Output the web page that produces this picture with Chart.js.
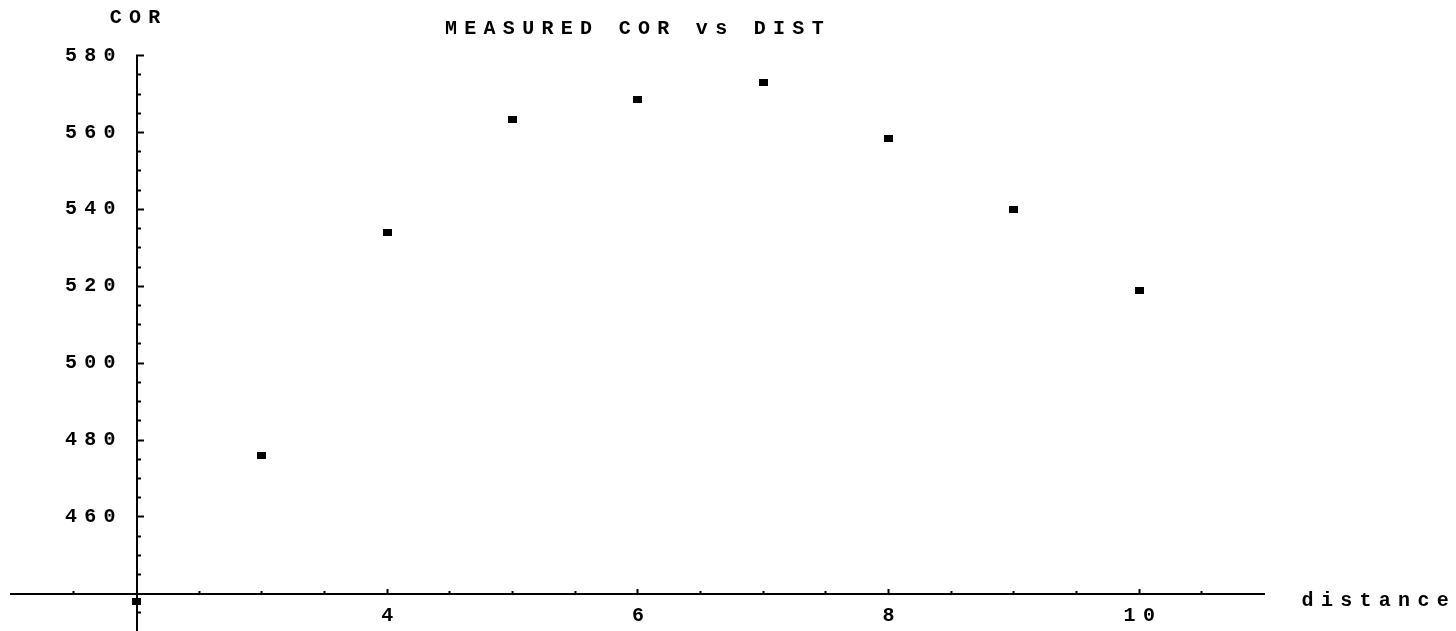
<!DOCTYPE html>
<html>
<head>
<meta charset="utf-8">
<title>Measured COR vs DIST</title>
<script src="https://cdn.jsdelivr.net/npm/chart.js@4/dist/chart.umd.min.js"></script>
<style>
  html, body { margin: 0; padding: 0; background: #fff; overflow: hidden; }
  canvas { display: block; }
</style>
</head>
<body>
<canvas id="chart" width="1456" height="631"></canvas>
<script>
// Data
const distance = [2, 3, 4, 5, 6, 7, 8, 9, 10];
const cor = [438, 476, 534, 563.5, 568.5, 573, 558.5, 540, 519];

// Axis ticks
const xMajorTicks = [4, 6, 8, 10];
const xMinorTicks = [1.5, 2.5, 3, 3.5, 4.5, 5, 5.5, 6.5, 7, 7.5, 8.5, 9, 9.5, 10.5];
const yMajorTicks = [460, 480, 500, 520, 540, 560, 580];
const yMinorTicks = [435, 445, 450, 455, 465, 470, 475, 485, 490, 495, 505, 510, 515,
  525, 530, 535, 545, 550, 555, 565, 570, 575];

const chartTitle = 'MEASURED COR vs DIST';
const xName = 'distance';
const yName = 'COR';

const FONT = { family: '"Liberation Mono", "DejaVu Sans Mono", monospace', size: 20, weight: 'bold' };
const SPACING = 7.3;

// old plot look: wide spaced letters
const spacingPlugin = {
  id: 'spacing',
  beforeUpdate(chart) { chart.ctx.letterSpacing = SPACING + 'px'; },
  beforeDraw(chart) { chart.ctx.letterSpacing = SPACING + 'px'; }
};

// axis names sit at the ends of the axes, not rotated
const axisNamePlugin = {
  id: 'axisNames',
  afterDraw(chart) {
    const { ctx, scales: { x, y } } = chart;
    ctx.save();
    ctx.font = 'bold ' + FONT.size + 'px ' + FONT.family;
    ctx.fillStyle = '#000';
    ctx.letterSpacing = SPACING + 'px';
    ctx.textAlign = 'center';
    ctx.textBaseline = 'middle';
    ctx.fillText(yName, x.getPixelForValue(2) + 2, 18);
    ctx.textAlign = 'left';
    ctx.textBaseline = 'alphabetic';
    ctx.fillText(xName, x.right + 37, y.getPixelForValue(440) + 12);
    ctx.restore();
  }
};

// axes take no room in the layout, they cross inside the plot
function noRoom(scale) {
  if (scale.isHorizontal()) scale.height = 0; else scale.width = 0;
  scale.paddingTop = scale.paddingBottom = scale.paddingLeft = scale.paddingRight = 0;
}

function setTicks(list) {
  return scale => { scale.ticks = list.map(v => ({ value: v })); };
}

const X_MIN = 1, X_MAX = 11;
const Y_MIN = 430.3, Y_MAX = 580;

const pointImg = document.createElement('canvas');
pointImg.width = 9;
pointImg.height = 7;
const pctx = pointImg.getContext('2d');
pctx.fillStyle = '#000';
pctx.fillRect(0, 0, 9, 7);

const ctx = document.getElementById('chart').getContext('2d');

new Chart(ctx, {
  type: 'scatter',
  data: {
    datasets: [{
      data: distance.map((d, i) => ({ x: d, y: cor[i] })),
      pointStyle: pointImg,
      pointRadius: 5,
      backgroundColor: '#000',
      borderColor: '#000'
    }]
  },
  options: {
    responsive: false,
    animation: false,
    devicePixelRatio: 1,
    layout: { autoPadding: false, padding: { left: 11.3, right: 191.4, top: 0, bottom: 0 } },
    font: FONT,
    plugins: {
      legend: { display: false },
      tooltip: { enabled: false },
      title: {
        display: true,
        text: chartTitle,
        fullSize: false,
        color: '#000',
        font: FONT,
        padding: { top: 17, bottom: 14.7 }
      }
    },
    scales: {
      x: {
        type: 'linear',
        min: X_MIN,
        max: X_MAX,
        position: { y: 440 },
        afterFit: noRoom,
        afterBuildTicks: setTicks(xMajorTicks),
        border: { display: true, color: '#000', width: 2 },
        grid: { drawOnChartArea: false, drawTicks: true, tickLength: -6, tickWidth: 2, tickColor: '#000' },
        ticks: { color: '#000', font: FONT, padding: 16, labelOffset: SPACING / 2, maxRotation: 0, autoSkip: false }
      },
      xMinor: {
        type: 'linear',
        axis: 'x',
        min: X_MIN,
        max: X_MAX,
        position: { y: 440 },
        afterFit: noRoom,
        afterBuildTicks: setTicks(xMinorTicks),
        border: { display: false },
        grid: { drawOnChartArea: false, drawTicks: true, tickLength: -3, tickWidth: 2, tickColor: '#000' },
        ticks: { display: false }
      },
      y: {
        type: 'linear',
        min: Y_MIN,
        max: Y_MAX,
        position: { x: 2 },
        afterFit: noRoom,
        afterBuildTicks: setTicks(yMajorTicks),
        border: { display: true, color: '#000', width: 2 },
        grid: { drawOnChartArea: false, drawTicks: true, tickLength: -8, tickWidth: 2, tickColor: '#000' },
        ticks: { display: false }
      },
      yMinor: {
        type: 'linear',
        axis: 'y',
        min: Y_MIN,
        max: Y_MAX,
        position: { x: 2 },
        afterFit: noRoom,
        afterBuildTicks: setTicks(yMinorTicks),
        border: { display: false },
        grid: { drawOnChartArea: false, drawTicks: true, tickLength: -4, tickWidth: 2, tickColor: '#000' },
        ticks: { display: false }
      },
      // tick labels stand a little left of the y axis line
      yLabels: {
        type: 'linear',
        axis: 'y',
        min: Y_MIN,
        max: Y_MAX,
        position: { x: 1.89 },
        afterFit: noRoom,
        afterBuildTicks: setTicks(yMajorTicks),
        border: { display: false },
        grid: { display: false, drawTicks: false },
        ticks: { color: '#000', font: FONT, padding: 0, autoSkip: false }
      }
    }
  },
  plugins: [spacingPlugin, axisNamePlugin]
});
</script>
</body>
</html>
